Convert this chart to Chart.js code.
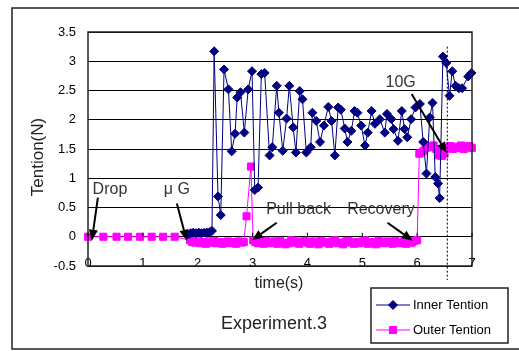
<!DOCTYPE html>
<html>
<head>
<meta charset="utf-8">
<script src="https://cdn.jsdelivr.net/npm/chart.js@4.4.1/dist/chart.umd.min.js"></script>
<style>
  html, body { margin: 0; padding: 0; background: #fff; }
</style>
</head>
<body>
<canvas id="tentionChart" width="519" height="351"></canvas>
<script>
// values (time in s, tention in N)
const innerTime = [
  1.82, 1.87, 1.92, 1.97, 2.02, 2.07, 2.12, 2.17, 2.22, 2.26,
  2.30, 2.37, 2.42, 2.48, 2.56, 2.62, 2.68, 2.72, 2.78, 2.85,
  2.92, 2.99, 3.04, 3.10, 3.16, 3.22, 3.31, 3.36, 3.44, 3.48,
  3.55, 3.62, 3.67, 3.74, 3.79, 3.86, 3.91, 3.98, 4.06, 4.09,
  4.16, 4.23, 4.30, 4.38, 4.44, 4.50, 4.56, 4.61, 4.68, 4.73,
  4.80, 4.86, 4.91, 4.98, 5.05, 5.10, 5.17, 5.23, 5.32, 5.41,
  5.45, 5.53, 5.57, 5.65, 5.72, 5.77, 5.82, 5.89, 5.97, 6.05,
  6.11, 6.17, 6.23, 6.28, 6.33, 6.38, 6.41, 6.47, 6.53, 6.59,
  6.64, 6.70, 6.76, 6.82, 6.93, 6.99
];
const innerValue = [
  0.04, 0.06, 0.07, 0.06, 0.07, 0.06, 0.07, 0.07, 0.08, 0.10,
  3.17, 0.69, 0.37, 2.86, 2.52, 1.46, 1.76, 2.38, 2.47, 1.78,
  2.52, 2.83, 0.80, 0.84, 2.78, 2.80, 1.39, 1.53, 2.58, 2.12,
  1.47, 2.02, 2.58, 1.87, 1.44, 2.49, 2.35, 1.44, 1.53, 2.12,
  1.98, 1.62, 1.90, 2.22, 1.98, 1.39, 2.21, 2.17, 1.85, 1.62,
  1.81, 2.15, 2.12, 1.90, 1.56, 1.78, 2.15, 1.93, 2.01, 1.78,
  2.10, 2.01, 1.84, 1.64, 2.15, 1.84, 1.70, 2.01, 2.21, 2.27,
  1.62, 1.08, 2.04, 2.29, 1.02, 0.91, 0.66, 3.08, 2.97, 2.41,
  2.83, 2.58, 2.54, 2.54, 2.74, 2.80
];
const outerTime = [
  0, 0.28, 0.52, 0.73, 0.95, 1.16, 1.37, 1.58,
  1.86, 1.90, 1.95, 2.00, 2.05, 2.10, 2.15, 2.20, 2.25, 2.30,
  2.35, 2.40, 2.45, 2.50, 2.55, 2.60, 2.65, 2.70, 2.75, 2.80, 2.84,
  2.89, 2.97,
  3.01, 3.05, 3.10, 3.15, 3.20, 3.25, 3.30, 3.35, 3.40, 3.45,
  3.50, 3.55, 3.60, 3.65, 3.70, 3.75, 3.80, 3.85, 3.90, 3.95,
  4.00, 4.05, 4.10, 4.15, 4.20, 4.25, 4.30, 4.35, 4.40, 4.45,
  4.50, 4.55, 4.60, 4.65, 4.70, 4.75, 4.80, 4.85, 4.90, 4.95,
  5.00, 5.05, 5.10, 5.15, 5.20, 5.25, 5.30, 5.35, 5.40, 5.45,
  5.50, 5.55, 5.60, 5.65, 5.70, 5.75, 5.80, 5.85, 5.90, 5.95, 6.00,
  6.04, 6.08, 6.12, 6.16, 6.20, 6.25, 6.30, 6.35, 6.40, 6.45,
  6.50, 6.55, 6.60, 6.65, 6.70, 6.75, 6.80, 6.85, 6.90, 6.95, 7.00
];
const outerValue = [
  0, 0, 0, 0, 0, 0, 0, 0,
  -0.06, -0.09, -0.10, -0.08, -0.11, -0.09, -0.12, -0.08, -0.10, -0.07,
  -0.11, -0.09, -0.12, -0.10, -0.08, -0.11, -0.09, -0.12, -0.08, -0.10, -0.09,
  0.35, 1.20,
  -0.06, -0.09, -0.11, -0.08, -0.12, -0.07, -0.11, -0.09, -0.08, -0.12,
  -0.07, -0.10, -0.13, -0.11, -0.06, -0.10, -0.08, -0.12, -0.09, -0.07,
  -0.10, -0.12, -0.08, -0.09, -0.13, -0.07, -0.10, -0.09, -0.12, -0.08,
  -0.06, -0.11, -0.10, -0.13, -0.08, -0.07, -0.10, -0.12, -0.09, -0.11,
  -0.08, -0.06, -0.12, -0.10, -0.09, -0.13, -0.07, -0.10, -0.11, -0.08,
  -0.09, -0.12, -0.07, -0.10, -0.11, -0.08, -0.12, -0.09, -0.10, -0.07, -0.06,
  1.42, 1.44, 1.47, 1.52, 1.55, 1.53, 1.56, 1.50, 1.39, 1.38,
  1.42, 1.52, 1.55, 1.50, 1.54, 1.52, 1.56, 1.50, 1.53, 1.55, 1.52
];
const seriesNames = ['Inner Tention', 'Outer Tention'];
const timeTicks = [0, 1, 2, 3, 4, 5, 6, 7];

// call-outs: text spot, arrow tail and arrow tip, all in (s, N)
const notes = [
  { text: 'Drop',      at: [0.40, 0.80], from: [0.18, 0.67], to: [0.07, -0.07] },
  { text: '\u03bc G',  at: [1.62, 0.80], from: [1.62, 0.57], to: [1.80, -0.07] },
  { text: 'Pull back', at: [3.84, 0.46], from: [3.44, 0.24], to: [2.99, -0.06] },
  { text: 'Recovery',  at: [5.34, 0.46], from: [5.46, 0.24], to: [5.92, -0.07] },
  { text: '10G',       at: [5.70, 2.63], from: [5.90, 2.44], to: [6.54, 1.43] }
];
const markTime = 6.55; // dotted line

const FONT = "'Liberation Sans', Arial, sans-serif";
const NAVY = '#000080';
const PINK = '#ff00ff';

function arrow(ctx, x1, y1, x2, y2) {
  const ang = Math.atan2(y2 - y1, x2 - x1);
  const len = 11, half = 4.5;
  const bx = x2 - len * Math.cos(ang), by = y2 - len * Math.sin(ang);
  ctx.beginPath();
  ctx.moveTo(x1, y1);
  ctx.lineTo(bx, by);
  ctx.stroke();
  ctx.beginPath();
  ctx.moveTo(x2, y2);
  ctx.lineTo(bx + half * Math.sin(ang), by - half * Math.cos(ang));
  ctx.lineTo(bx - half * Math.sin(ang), by + half * Math.cos(ang));
  ctx.closePath();
  ctx.fill();
}

const decor = {
  id: 'decor',
  beforeDraw(chart) {
    const ctx = chart.ctx;
    ctx.save();
    ctx.fillStyle = '#fff';
    ctx.fillRect(0, 0, chart.width, chart.height);
    ctx.strokeStyle = '#222';
    ctx.lineWidth = 1.5;
    ctx.strokeRect(12, 8, 530, 341);
    ctx.restore();
  },
  afterDatasetsDraw(chart) {
    const ctx = chart.ctx;
    const a = chart.chartArea;
    const xs = chart.scales.x, ys = chart.scales.y;
    const px = (t) => xs.getPixelForValue(t);
    const py = (v) => ys.getPixelForValue(v);
    ctx.save();

    // time tick labels sit just inside the plot bottom
    ctx.fillStyle = '#000';
    ctx.font = '13px ' + FONT;
    ctx.textAlign = 'center';
    ctx.textBaseline = 'alphabetic';
    timeTicks.forEach((t) => ctx.fillText(String(t), px(t), a.bottom + 1));

    // plot frame
    ctx.strokeStyle = '#222';
    ctx.lineWidth = 1.5;
    ctx.strokeRect(a.left, a.top, a.right - a.left, a.bottom - a.top);

    // small ticks on the zero line
    ctx.lineWidth = 1;
    ctx.strokeStyle = '#000';
    timeTicks.forEach((t) => {
      ctx.beginPath();
      ctx.moveTo(px(t), py(0));
      ctx.lineTo(px(t), py(0) - 4);
      ctx.stroke();
    });

    // dotted marker line
    ctx.setLineDash([2, 2]);
    ctx.beginPath();
    ctx.moveTo(px(markTime), py(3.25));
    ctx.lineTo(px(markTime), py(-0.74));
    ctx.stroke();
    ctx.setLineDash([]);

    // call-outs
    ctx.font = '16px ' + FONT;
    ctx.textBaseline = 'middle';
    ctx.lineWidth = 2;
    notes.forEach((n) => {
      ctx.fillStyle = '#333';
      ctx.fillText(n.text, px(n.at[0]), py(n.at[1]));
      ctx.fillStyle = '#000';
      arrow(ctx, px(n.from[0]), py(n.from[1]), px(n.to[0]), py(n.to[1]));
    });

    // axis titles and caption
    ctx.fillStyle = '#222';
    ctx.font = '16px ' + FONT;
    ctx.fillText('time(s)', 279, 284);
    ctx.font = '18px ' + FONT;
    ctx.fillText('Experiment.3', 274, 324);
    ctx.save();
    ctx.translate(38, 157);
    ctx.rotate(-Math.PI / 2);
    ctx.font = '17px ' + FONT;
    ctx.fillText('Tention(N)', 0, 0);
    ctx.restore();

    // legend box
    ctx.strokeStyle = '#222';
    ctx.lineWidth = 1.5;
    ctx.strokeRect(371, 288, 137, 55);
    const rows = [
      { name: seriesNames[0], color: NAVY, style: 'rectRot', r: 4.5, y: 305 },
      { name: seriesNames[1], color: PINK, style: 'rect', r: 5, y: 330 }
    ];
    ctx.font = '13px ' + FONT;
    ctx.textAlign = 'left';
    rows.forEach((row) => {
      ctx.strokeStyle = row.color;
      ctx.fillStyle = row.color;
      ctx.lineWidth = 1;
      ctx.beginPath();
      ctx.moveTo(376, row.y);
      ctx.lineTo(410, row.y);
      ctx.stroke();
      Chart.helpers.drawPoint(ctx, { pointStyle: row.style, radius: row.r, rotation: 0, borderWidth: 1 }, 393, row.y);
      ctx.fillStyle = '#000';
      ctx.fillText(row.name, 413, row.y);
    });
    ctx.restore();
  }
};

const ctx = document.getElementById('tentionChart');

new Chart(ctx, {
  type: 'line',
  data: {
    datasets: [
      {
        label: seriesNames[0],
        data: innerTime.map((t, i) => ({ x: t, y: innerValue[i] })),
        borderColor: NAVY,
        backgroundColor: NAVY,
        borderWidth: 1,
        pointStyle: 'rectRot',
        pointRadius: 4.5,
        pointBorderWidth: 1,
        clip: false,
        fill: false,
      },
      {
        label: seriesNames[1],
        data: outerTime.map((t, i) => ({ x: t, y: outerValue[i] })),
        borderColor: PINK,
        backgroundColor: PINK,
        borderWidth: 1,
        pointStyle: 'rect',
        pointRadius: 5,
        pointBorderWidth: 1,
        clip: false,
        fill: false,
      },
    ],
  },
  options: {
    responsive: false,
    animation: false,
    layout: { padding: { left: 0, top: 32, right: 47, bottom: 0 } },
    elements: { line: { tension: 0 } },
    plugins: {
      legend: { display: false },
      tooltip: { enabled: false },
    },
    scales: {
      x: {
        type: 'linear',
        min: 0,
        max: 7,
        ticks: { display: false, stepSize: 1 },
        grid: { display: false, drawTicks: false },
        border: { display: false },
        afterFit: (s) => { s.height = 85; },
      },
      y: {
        min: -0.5,
        max: 3.5,
        ticks: {
          stepSize: 0.5,
          padding: 12,
          color: '#000',
          font: { family: FONT, size: 13 },
          callback: (v) => String(Math.round(v * 10) / 10),
        },
        grid: { color: '#000', lineWidth: 1, drawTicks: false },
        border: { display: false },
        afterFit: (s) => { s.width = 88; },
      },
    },
  },
  plugins: [decor],
});
</script>
</body>
</html>
